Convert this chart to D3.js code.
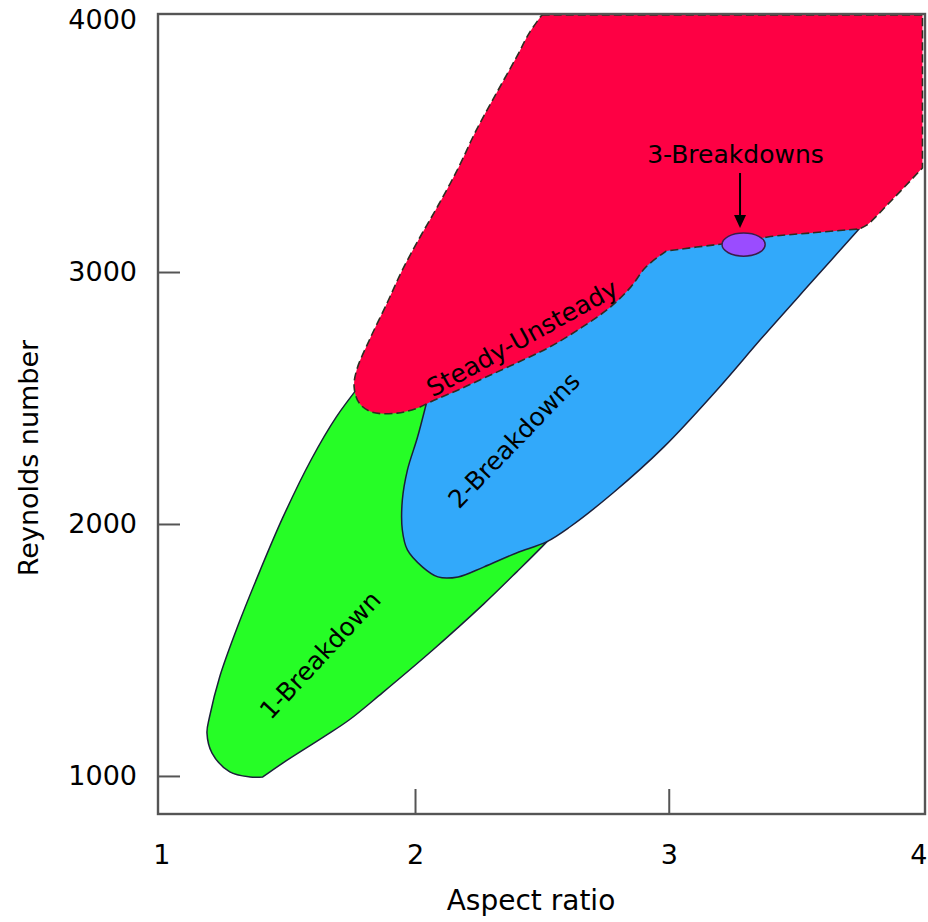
<!DOCTYPE html>
<html>
<head>
<meta charset="utf-8">
<script src="https://cdnjs.cloudflare.com/ajax/libs/d3/7.8.5/d3.min.js"></script>
<style>
  body { margin: 0; background: #fff; }
  text { font-family: "Comic Sans MS", "DejaVu Sans", sans-serif; }
</style>
</head>
<body>
<div id="chart"></div>
<script>
    // axis ticks
    var xTicks = [1, 2, 3, 4];
    var yTicks = [1000, 2000, 3000, 4000];

    // region outlines as [aspect ratio, Reynolds number]
    var unsteadyRegion = [
      [2.50, 4020], [4.00, 4020], [4.00, 3413], [3.88, 3286], [3.78, 3186], [3.75, 3171],
      [3.56, 3155], [3.39, 3139], [3.29, 3119], [3.21, 3111], [3.11, 3099], [2.99, 3083],
      [2.91, 3020], [2.85, 2940], [2.77, 2861], [2.66, 2782], [2.53, 2702], [2.40, 2639],
      [2.28, 2583], [2.17, 2532], [2.06, 2484], [2.01, 2460], [1.93, 2440], [1.83, 2444],
      [1.78, 2480], [1.76, 2544], [1.77, 2611], [1.82, 2730], [1.89, 2877], [1.95, 3008],
      [2.02, 3139], [2.09, 3262], [2.17, 3412], [2.24, 3560], [2.32, 3708], [2.40, 3853],
      [2.45, 3948]
    ];
    var unsteadyCorners = [0, 1, 2, 5, 11];

    var twoBreakdownRegion = [
      [2.05, 2500], [2.17, 2546], [2.28, 2597], [2.40, 2653], [2.53, 2716], [2.66, 2796],
      [2.77, 2875], [2.85, 2954], [2.91, 3034], [2.99, 3097], [3.11, 3111], [3.21, 3123],
      [3.29, 3131], [3.39, 3151], [3.56, 3165], [3.75, 3171], [3.57, 2968], [3.37, 2742],
      [3.19, 2532], [2.98, 2305], [2.78, 2123], [2.61, 1988], [2.52, 1930], [2.40, 1885],
      [2.27, 1829], [2.17, 1790], [2.09, 1790], [2.03, 1829], [1.97, 1897], [1.95, 1976],
      [1.95, 2095], [1.97, 2214], [2.01, 2345]
    ];
    var twoBreakdownCorners = [0, 9, 15];

    var oneBreakdownRegion = [
      [1.79, 2560], [1.69, 2425], [1.59, 2254], [1.48, 2028], [1.39, 1817], [1.30, 1591],
      [1.23, 1393], [1.19, 1234], [1.18, 1171], [1.20, 1091], [1.27, 1016], [1.35, 996],
      [1.40, 996], [1.48, 1052], [1.64, 1155], [1.74, 1222], [1.87, 1329], [2.07, 1500],
      [2.27, 1682], [2.40, 1809], [2.52, 1930], [2.62, 2040], [2.40, 2200], [2.15, 2400],
      [2.10, 2560], [1.95, 2560]
    ];
    var oneBreakdownCorners = [0, 12, 21];

    // 3-breakdown bubble: centre aspect, centre Re, half width, half height
    var threeBreakdown = [3.295, 3109, 0.085, 46];

    // set the dimensions and margins of the graph
    var margin = {top: 14, right: 3, bottom: 108, left: 158},
        width = 928 - margin.left - margin.right,
        height = 922 - margin.top - margin.bottom;

    var root = d3.select("#chart")
      .append("svg")
        .attr("width", width + margin.left + margin.right)
        .attr("height", height + margin.top + margin.bottom);

    var svg = root.append("g")
        .attr("transform", "translate(" + margin.left + "," + margin.top + ")");

    var x = d3.scaleLinear().domain([0.987, 4.01]).range([0, width]);
    var y = d3.scaleLinear().domain([849, 4024]).range([height, 0]);

    svg.append("clipPath").attr("id", "plot-clip")
      .append("rect").attr("width", width).attr("height", height);

    // repeat corner points so the smooth curve keeps them sharp
    function sharpen(pts, corners) {
      var out = [];
      pts.forEach(function(p, i) {
        out.push(p);
        if (corners.indexOf(i) >= 0) out.push(p);
      });
      return out;
    }

    var area = d3.line()
      .x(function(d) { return x(d[0]); })
      .y(function(d) { return y(d[1]); })
      .curve(d3.curveCatmullRomClosed.alpha(0.5));

    var regions = svg.append("g").attr("clip-path", "url(#plot-clip)");

    regions.append("path")
      .attr("d", area(sharpen(oneBreakdownRegion, oneBreakdownCorners)))
      .attr("fill", "#26fd26")
      .attr("stroke", "#1b1f3a")
      .attr("stroke-width", 1.5);

    regions.append("path")
      .attr("d", area(sharpen(twoBreakdownRegion, twoBreakdownCorners)))
      .attr("fill", "#32a9fa")
      .attr("stroke", "#1b1f3a")
      .attr("stroke-width", 1.5);

    regions.append("path")
      .attr("d", area(sharpen(unsteadyRegion, unsteadyCorners)))
      .attr("fill", "#fe0044")
      .attr("stroke", "#2e2e22")
      .attr("stroke-width", 1.6)
      .attr("stroke-dasharray", "8,4");

    regions.append("ellipse")
      .attr("cx", x(threeBreakdown[0]))
      .attr("cy", y(threeBreakdown[1]))
      .attr("rx", x(threeBreakdown[0] + threeBreakdown[2]) - x(threeBreakdown[0]))
      .attr("ry", y(threeBreakdown[1]) - y(threeBreakdown[1] + threeBreakdown[3]))
      .attr("fill", "#9a4cff")
      .attr("stroke", "#3a1d4a")
      .attr("stroke-width", 1.5);

    // arrow pointing at the 3-breakdown bubble
    var arrowAt = 3.281, arrowFrom = 3393, arrowTo = 3175;
    svg.append("line")
      .attr("x1", x(arrowAt)).attr("y1", y(arrowFrom))
      .attr("x2", x(arrowAt)).attr("y2", y(arrowTo) - 10)
      .attr("stroke", "#000")
      .attr("stroke-width", 2);
    svg.append("path")
      .attr("d", "M" + (x(arrowAt) - 6) + "," + (y(arrowTo) - 13) +
                 "L" + (x(arrowAt) + 6) + "," + (y(arrowTo) - 13) +
                 "L" + x(arrowAt) + "," + y(arrowTo) + "Z")
      .attr("fill", "#000");

    // region labels
    var labels = [
      {text: "Steady-Unsteady", ar: 2.422, re: 2738, angle: -29},
      {text: "2-Breakdowns", ar: 2.390, re: 2333, angle: -46},
      {text: "1-Breakdown", ar: 1.626, re: 1480, angle: -47}
    ];
    svg.selectAll(".region-label")
      .data(labels)
      .enter()
      .append("text")
        .attr("class", "region-label")
        .attr("transform", function(d) {
          return "translate(" + x(d.ar) + "," + y(d.re) + ") rotate(" + d.angle + ")";
        })
        .attr("dy", "0.35em")
        .style("text-anchor", "middle")
        .style("font-size", "25px")
        .text(function(d) { return d.text; });

    svg.append("text")
      .attr("x", x(3.263))
      .attr("y", y(3432))
      .style("text-anchor", "middle")
      .style("font-size", "25px")
      .text("3-Breakdowns");

    // frame
    svg.append("rect")
      .attr("width", width)
      .attr("height", height)
      .attr("fill", "none")
      .attr("stroke", "#555")
      .attr("stroke-width", 2.4);

    // X axis
    var xAxis = svg.append("g")
      .attr("transform", "translate(0," + height + ")")
      .attr("color", "#555")
      .call(d3.axisBottom(x).tickValues(xTicks).tickFormat(d3.format("d"))
        .tickSizeInner(-25).tickSizeOuter(0).tickPadding(31));
    xAxis.select(".domain").remove();
    xAxis.selectAll(".tick line")
      .filter(function(d) { return d === 1 || d === 4; }).remove();
    // keep the last label inside the page
    xAxis.selectAll(".tick text")
      .filter(function(d) { return d === 4; })
      .attr("text-anchor", "end")
      .attr("x", width + margin.right - x(4) - 1);

    // Y axis
    var yAxis = svg.append("g")
      .attr("color", "#555")
      .call(d3.axisLeft(y).tickValues(yTicks).tickFormat(d3.format("d"))
        .tickSizeInner(-22).tickSizeOuter(0).tickPadding(21));
    yAxis.select(".domain").remove();
    yAxis.selectAll(".tick line")
      .filter(function(d) { return d === 4000; }).remove();

    root.selectAll(".tick line").attr("stroke-width", 2);
    root.selectAll(".tick text")
      .attr("fill", "#000")
      .style("font-size", "27px");

    // axis titles
    root.append("text")
      .attr("x", 531)
      .attr("y", 910)
      .style("text-anchor", "middle")
      .style("font-size", "28px")
      .text("Aspect ratio");

    root.append("text")
      .attr("transform", "translate(38,458) rotate(-90)")
      .style("text-anchor", "middle")
      .style("font-size", "27px")
      .text("Reynolds number");
</script>
</body>
</html>
